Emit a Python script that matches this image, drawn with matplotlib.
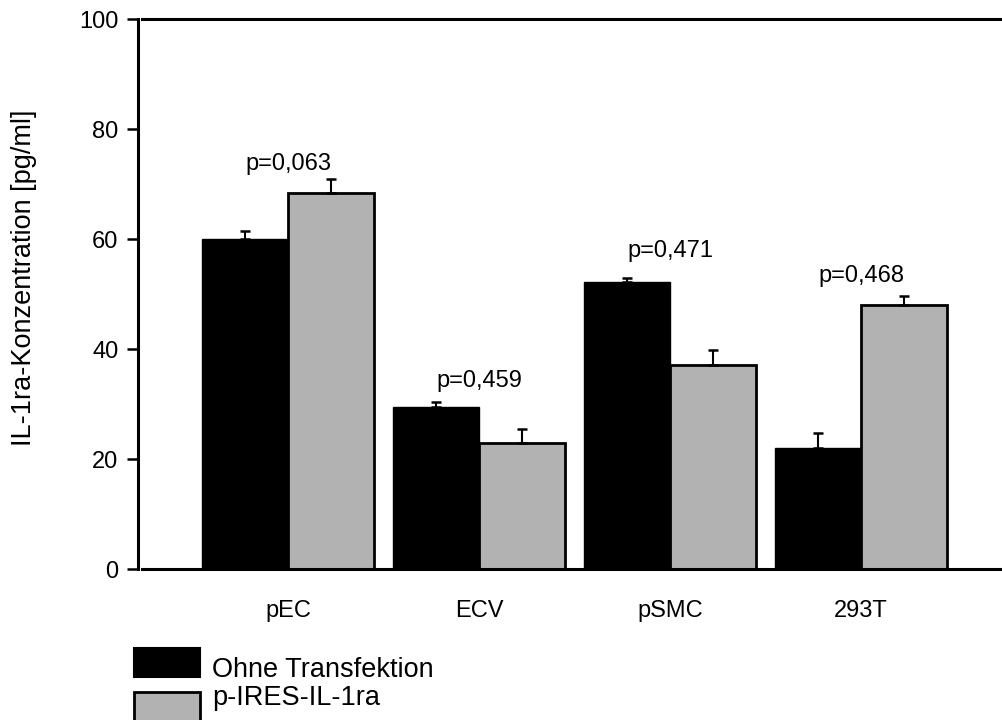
import matplotlib
matplotlib.use("Agg")
import matplotlib.pyplot as plt
import numpy as np
from matplotlib.patches import Rectangle

plt.rcParams['font.family'] = ['Liberation Sans', 'DejaVu Sans']

categories = ["pEC", "ECV", "pSMC", "293T"]
series_names = ["Ohne Transfektion", "p-IRES-IL-1ra"]
ohne = [60.0, 29.4, 52.2, 22.0]
ohne_err = [1.4, 0.9, 0.8, 2.7]
ires = [68.3, 23.0, 37.1, 48.0]
ires_err = [2.7, 2.5, 2.8, 1.6]
p_labels = ["p=0,063", "p=0,459", "p=0,471", "p=0,468"]
p_label_y = [72.5, 33.1, 56.7, 52.2]
y_ticks = [0, 20, 40, 60, 80, 100]

W, H = 1002, 720
fig = plt.figure(figsize=(W / 100, H / 100), dpi=100)
ax = fig.add_axes([142 / W, 1 - 569 / H, 1 - 142 / W, (569 - 19) / H])

x = np.arange(len(categories))
bw = 0.45
ax.bar(x - bw / 2, ohne, bw, color="black", edgecolor="black", linewidth=1.0, zorder=2)
ax.bar(x + bw / 2, ires, bw, color="#b2b2b2", edgecolor="black", linewidth=2, zorder=2)
ax.errorbar(x - bw / 2, ohne, yerr=[np.zeros(len(ohne)), ohne_err], fmt="none",
            ecolor="black", elinewidth=1.5, capsize=3.6, capthick=1.8, zorder=3)
ax.errorbar(x + bw / 2, ires, yerr=[np.zeros(len(ires)), ires_err], fmt="none",
            ecolor="black", elinewidth=1.5, capsize=3.6, capthick=1.8, zorder=3)

for xi, lab, ly in zip(x, p_labels, p_label_y):
    ax.text(xi, ly, lab, ha="center", va="baseline", fontsize=17)

ax.set_xlim(-0.764, 3.738)
ax.set_ylim(0, 100)
ax.set_yticks(y_ticks)
ax.set_xticks(x)
ax.set_xticklabels(categories)
ax.tick_params(axis="x", length=0, pad=22, labelsize=17)
ax.tick_params(axis="y", length=8, width=1.8, pad=6, direction="out", labelsize=17)

ax.spines["right"].set_visible(False)
ax.spines["left"].set_position(("outward", 3))
ax.spines["left"].set_linewidth(2.2)
ax.spines["top"].set_linewidth(2.2)
ax.spines["bottom"].set_linewidth(2.2)

fig.text(24 / W, 1 - 278 / H, "IL-1ra-Konzentration [pg/ml]", rotation=90,
         ha="center", va="center", fontsize=19.5)

# legend drawn in figure pixels
fig.add_artist(Rectangle((134 / W, 1 - 677 / H), 66 / W, 29 / H,
                         transform=fig.transFigure, facecolor="black",
                         edgecolor="black", linewidth=1.5))
fig.add_artist(Rectangle((134 / W, 1 - 721 / H), 66 / W, 29 / H,
                         transform=fig.transFigure, facecolor="#b2b2b2",
                         edgecolor="black", linewidth=2, clip_on=False))
fig.text(212 / W, 1 - 677 / H, series_names[0], ha="left", va="baseline", fontsize=19.5)
fig.text(212 / W, 1 - 705 / H, series_names[1], ha="left", va="baseline", fontsize=19.5)

fig.savefig("out.png", dpi=100)
